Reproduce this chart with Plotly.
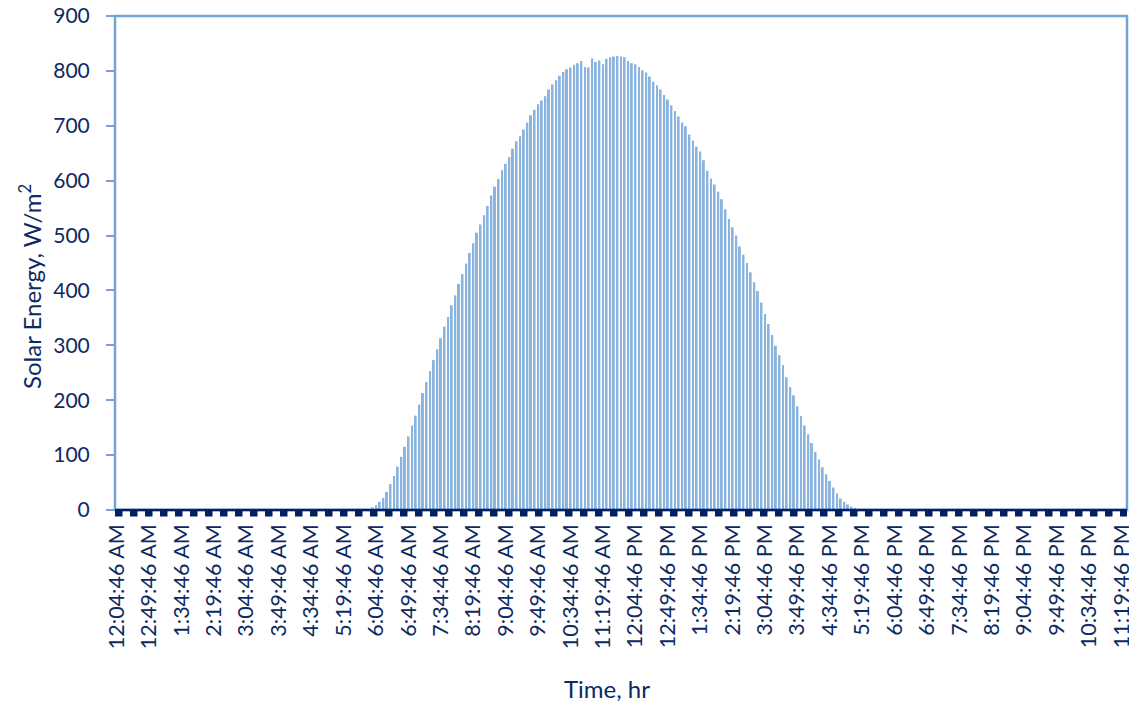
import plotly.graph_objects as go

# ---- data -------------------------------------------------------------
n_slots = 281            # 5-minute slots starting 12:04:46 AM
first_minute = 4
step_minutes = 5


def fmt_time(total_min):
    h, m = divmod(total_min, 60)
    suffix = "AM" if h < 12 else "PM"
    h12 = h % 12 or 12
    return f"{h12}:{m:02d}:46 {suffix}"


times = [fmt_time(first_minute + step_minutes * i) for i in range(n_slots)]

night_am = [0] * 71
morning = [5, 9, 15, 22, 33, 47, 62, 79, 97, 115, 134, 154, 172, 192, 213, 233,
           253, 273, 293, 313, 334, 352, 373, 391, 412, 430, 449, 468, 486, 505,
           520, 537, 554]
late_morning = [573, 589, 603, 619, 631, 643, 658, 672, 681, 693, 706, 719, 729,
                739, 746, 754, 766, 775, 783, 791, 798, 803, 806, 811, 814, 818,
                807, 806, 823, 816, 819, 812, 822]
midday = [825, 826, 827, 826, 825, 818, 814, 812, 807, 801, 797, 790, 780, 774,
          766, 756, 748, 737, 727, 717, 706, 699, 684, 673, 662, 653, 637, 618,
          604, 593, 580, 566, 548]
afternoon = [530, 515, 500, 480, 465, 450, 433, 415, 399, 378, 357, 339, 319, 299,
             282, 264, 242, 224, 209, 189, 171, 154, 138, 122, 106, 92, 78, 65,
             53, 41, 30, 21, 15, 10, 6, 4]
night_pm = [0] * 75
solar = night_am + morning + late_morning + midday + afternoon + night_pm

tick_every = 9
tick_vals = times[::tick_every]
y_ticks = list(range(0, 901, 100))

# ---- styling ----------------------------------------------------------
TEXT = "#0D2A62"
NAVY = "#022063"
BORDER = "#6FA3DA"
BAR = "#8AB3DE"
FONT = "Lato"

W, H = 1129, 702
ML, MR, MT, MB = 115, 2, 16, 192
plot_w = W - ML - MR
plot_h = H - MT - MB

fig = go.Figure(
    go.Bar(x=times, y=solar, marker=dict(color=BAR, line=dict(width=0)))
)

fig.update_layout(
    width=W, height=H,
    margin=dict(l=ML, r=MR, t=MT, b=MB, autoexpand=False),
    paper_bgcolor="white", plot_bgcolor="white",
    bargap=0.45, showlegend=False,
    font=dict(family=FONT, color=TEXT, size=21),
)

fig.update_xaxes(
    type="category", range=[-0.5, n_slots - 0.5], automargin=False,
    tickmode="array", tickvals=tick_vals, ticktext=tick_vals,
    tickangle=-90, ticks="", showgrid=False, showline=False, zeroline=False,
    tickfont=dict(family=FONT, size=21.5, color=TEXT), ticklabelstandoff=9,
    ticklabeloverflow="allow",
)
fig.update_yaxes(
    range=[0, 900], tickmode="array", tickvals=y_ticks, automargin=False,
    ticks="outside", ticklen=8, tickwidth=2, tickcolor="#7F9FC6",
    showgrid=False, zeroline=False, showline=False,
    tickfont=dict(family=FONT, size=21, color=TEXT), ticklabelstandoff=12,
    ticklabeloverflow="allow",
)

# plot-area border
fig.add_shape(type="rect", xref="paper", yref="paper", x0=0, x1=1, y0=0, y1=1,
              line=dict(color=BORDER, width=2.5), layer="above")
# dark base line and dashed strip at zero
fig.add_shape(type="line", xref="paper", yref="paper", ysizemode="pixel", yanchor=0,
              x0=0, x1=1, y0=0, y1=0,
              line=dict(color=NAVY, width=2.5), layer="above")
fig.add_shape(type="line", xref="paper", yref="paper", ysizemode="pixel", yanchor=0,
              x0=0, x1=1, y0=-3.5, y1=-3.5,
              line=dict(color=NAVY, width=6, dash="7.5px,7.5px"), layer="above")

fig.add_annotation(text="Solar Energy, W/m<sup>2</sup>", xref="paper", yref="paper",
                   x=-85 / plot_w, y=0.5 - 24 / plot_h, xanchor="center",
                   yanchor="middle", textangle=-90, showarrow=False,
                   font=dict(family=FONT, size=24, color=TEXT))
fig.add_annotation(text="Time, hr", xref="paper", yref="paper",
                   x=0.486, y=-178 / plot_h, xanchor="center", yanchor="middle",
                   showarrow=False,
                   font=dict(family=FONT, size=24, color=TEXT))

fig.write_html(
    "out.html",
    config={"displayModeBar": False},
    post_script="document.body.style.margin='0';document.body.style.overflow='hidden';",
)
